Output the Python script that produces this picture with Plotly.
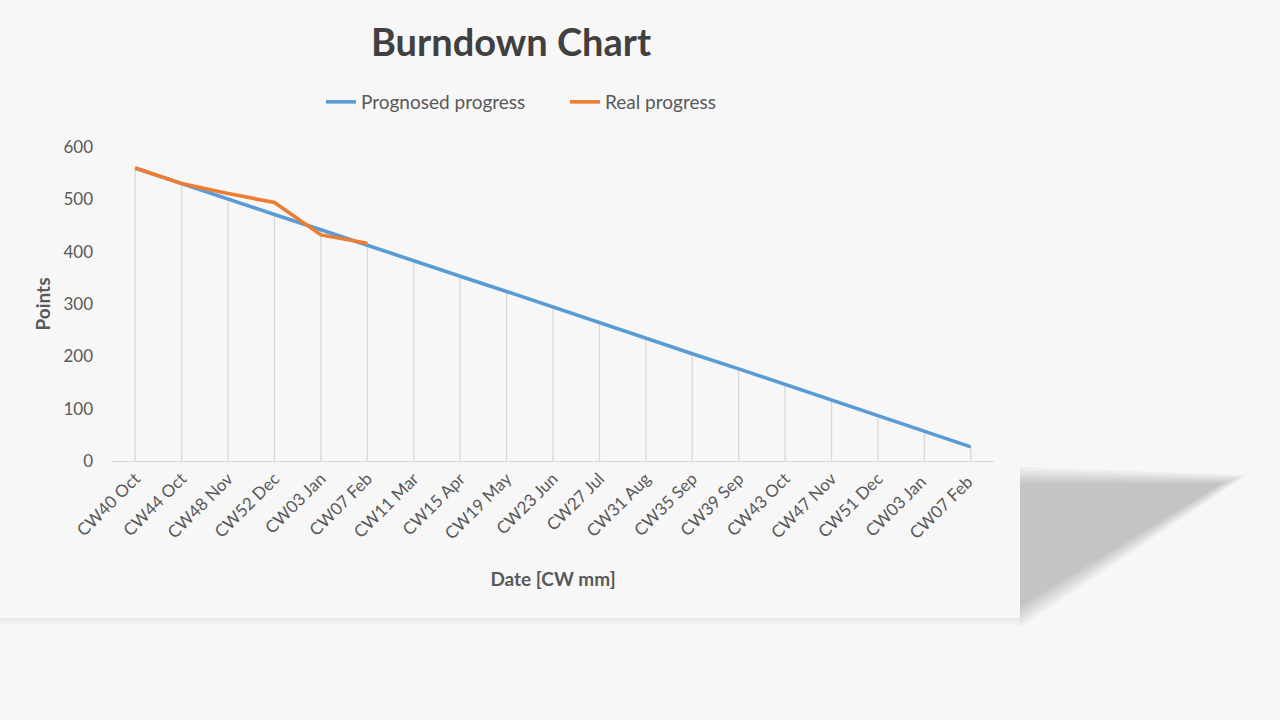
import plotly.graph_objects as go

categories = ["CW40 Oct", "CW44 Oct", "CW48 Nov", "CW52 Dec", "CW03 Jan", "CW07 Feb",
              "CW11 Mar", "CW15 Apr", "CW19 May", "CW23 Jun", "CW27 Jul", "CW31 Aug",
              "CW35 Sep", "CW39 Sep", "CW43 Oct", "CW47 Nov", "CW51 Dec", "CW03 Jan ",
              "CW07 Feb "]
prognosed = [560, 530, 501, 471, 442, 412, 383, 353, 324, 294, 264, 235, 205, 176, 146, 116, 87, 57, 27]
real_cats = categories[:6]
real = [560, 530, 511, 494, 432, 416]

W, H = 1280, 720
L, R, T, B = 112, 994, 147, 461  # plot area in pixels
BG = "#f7f7f7"
FONT = "Lato, 'Open Sans', sans-serif"

def px(x):
    return (x - L) / (R - L)

def py(y):
    return (B - y) / (B - T)

fig = go.Figure()

# drop lines from prognosed points to the axis
dx, dy = [], []
for c, v in zip(categories, prognosed):
    dx += [c, c, None]
    dy += [0, v, None]
fig.add_trace(go.Scatter(x=dx, y=dy, mode="lines", line=dict(color="#d9d9d9", width=1.3),
                         hoverinfo="skip", showlegend=False))

fig.add_trace(go.Scatter(x=categories, y=prognosed, mode="lines", name="Prognosed progress",
                         line=dict(color="#5b9bd5", width=3.6)))
fig.add_trace(go.Scatter(x=real_cats, y=real, mode="lines", name="Real progress",
                         line=dict(color="#ed7d31", width=3.6)))

shapes = []
# faint shadow below the panel
for h in [2, 4, 7]:
    shapes.append(dict(type="rect", xref="paper", yref="paper", layer="below",
                       x0=px(0), x1=px(1020), y0=py(618 + h), y1=py(618),
                       fillcolor="#000000", opacity=0.018, line=dict(width=0)))
# skewed drop shadow on the right, blurred by stacking
n = 6
for k in range(n):
    t = k / (n - 1)
    y_top = 467 + 16 * t
    x_tip = 1247 - 24 * t
    y_tip = 475 + 8 * t
    y_bot = 627 - 20 * t
    path = "M {},{} L {},{} L {},{} Z".format(
        px(1020), py(y_top), px(x_tip), py(y_tip), px(1020), py(y_bot))
    shapes.append(dict(type="path", xref="paper", yref="paper", layer="below",
                       path=path, fillcolor="#000000", opacity=0.037, line=dict(width=0)))

fig.update_layout(
    width=W, height=H,
    margin=dict(l=L, r=W - R, t=T, b=H - B),
    paper_bgcolor=BG, plot_bgcolor=BG,
    font=dict(family=FONT, color="#595959", size=17),
    title=dict(text="<b>Burndown Chart</b>", x=px(511), xanchor="center", xref="paper",
               y=1 - 43 / H, yanchor="middle",
               font=dict(size=38, color="#404040", family=FONT)),
    legend=dict(orientation="h", x=px(321), xanchor="left", y=py(102), yanchor="middle",
                font=dict(size=19, color="#595959"), bgcolor="rgba(0,0,0,0)",
                entrywidth=199, entrywidthmode="pixels", tracegroupgap=0),
    shapes=shapes,
    showlegend=True,
)
fig.update_xaxes(type="category", range=[-0.5, len(categories) - 0.5],
                 showgrid=False, zeroline=False, showline=True, linecolor="#d9d9d9", linewidth=1.3,
                 tickangle=-45, ticks="", tickfont=dict(size=17, color="#595959"),
                 title=dict(text="<b>Date [CW mm]</b>", standoff=30,
                            font=dict(size=19, color="#595959")))
fig.update_yaxes(range=[0, 600], dtick=100, showgrid=False, zeroline=False, showline=False,
                 ticks="", tickfont=dict(size=17, color="#595959"), ticklabelstandoff=18,
                 title=dict(text="<b>Points</b>", standoff=7,
                            font=dict(size=19, color="#595959")))

fig.write_html("out.html", config={"displayModeBar": False},
               post_script="document.body.style.margin='0px';"
                           "document.body.style.backgroundColor='#f7f7f7';")
